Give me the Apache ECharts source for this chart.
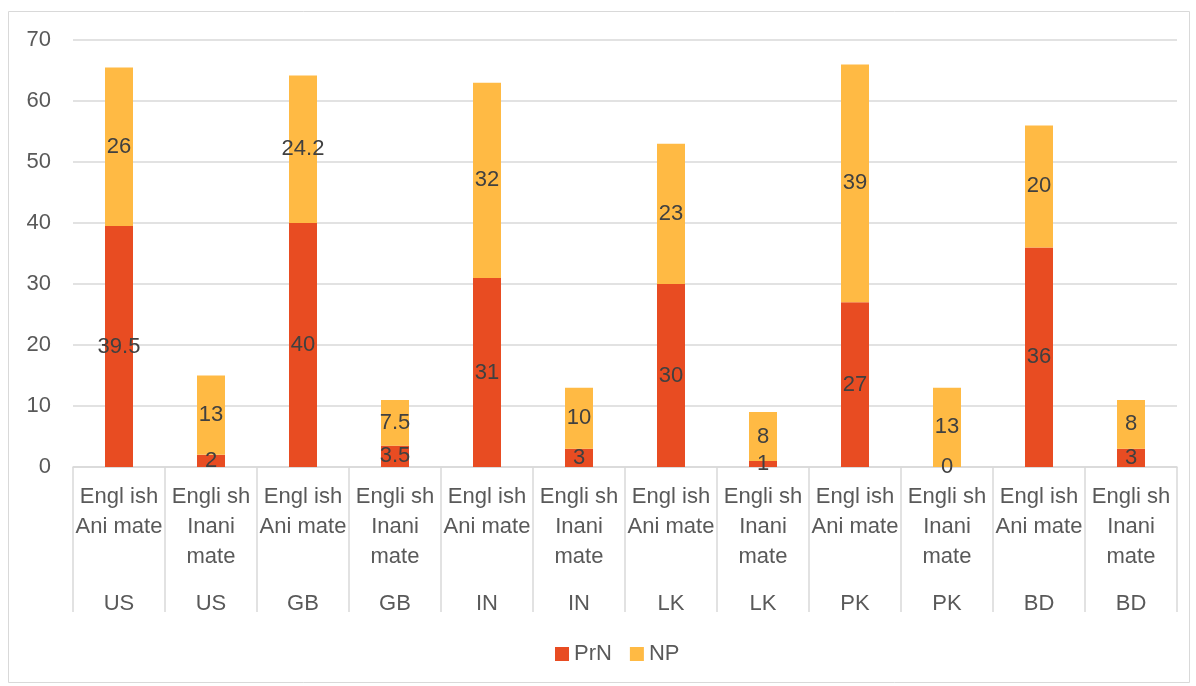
<!DOCTYPE html>
<html>
<head>
<meta charset="utf-8">
<script src="https://cdn.jsdelivr.net/npm/echarts@6/dist/echarts.min.js"></script>
<style>
  html, body { margin: 0; padding: 0; background: #fff; }
  #chart { width: 1196px; height: 686px; }
</style>
</head>
<body>
<div id="chart"></div>
<script>
// Level-one labels (noun type) and level-two labels (country) for each bar
const nounTypes = [
  'Engl ish\nAni mate', 'Engli sh\nInani\nmate',
  'Engl ish\nAni mate', 'Engli sh\nInani\nmate',
  'Engl ish\nAni mate', 'Engli sh\nInani\nmate',
  'Engl ish\nAni mate', 'Engli sh\nInani\nmate',
  'Engl ish\nAni mate', 'Engli sh\nInani\nmate',
  'Engl ish\nAni mate', 'Engli sh\nInani\nmate'
];
const countries = ['US', 'US', 'GB', 'GB', 'IN', 'IN', 'LK', 'LK', 'PK', 'PK', 'BD', 'BD'];

// Stacked values
const prN = [39.5, 2, 40, 3.5, 31, 3, 30, 1, 27, 0, 36, 3];
const np  = [26, 13, 24.2, 7.5, 32, 10, 23, 8, 39, 13, 20, 8];

const yTicks = { min: 0, max: 70, interval: 10 };

const FONT = 'Liberation Sans';
const FS = 22;
const GRAY = '#d9d9d9';
const TEXT = '#595959';

const chart = echarts.init(document.getElementById('chart'));

const segLabel = {
  show: true,
  position: 'inside',
  color: '#404040',
  fontFamily: FONT,
  fontSize: FS
};

chart.setOption({
  animation: false,
  textStyle: { fontFamily: FONT },
  graphic: [{
    type: 'rect',
    shape: { x: 8.5, y: 11.5, width: 1181, height: 671 },
    style: { fill: 'none', stroke: GRAY, lineWidth: 1 }
  }],
  grid: { left: 73, right: 19, top: 40, bottom: 219, containLabel: false },
  legend: {
    bottom: 16,
    left: 550,
    itemWidth: 14,
    itemHeight: 14,
    itemGap: 18,
    icon: 'rect',
    textStyle: { color: TEXT, fontFamily: FONT, fontSize: FS },
    data: ['PrN', 'NP']
  },
  xAxis: [{
    type: 'category',
    data: nounTypes,
    position: 'bottom',
    axisLine: { show: true, lineStyle: { color: GRAY, width: 1.5 } },
    axisTick: { show: true, length: 145, interval: 0, lineStyle: { color: GRAY, width: 1.5 } },
    axisLabel: {
      interval: 0,
      margin: 15,
      color: TEXT,
      fontFamily: FONT,
      fontSize: FS,
      lineHeight: 30,
      verticalAlign: 'top'
    }
  }, {
    type: 'category',
    data: countries,
    position: 'bottom',
    gridIndex: 0,
    axisLine: { show: false },
    axisTick: { show: false },
    axisLabel: {
      interval: 0,
      margin: 126,
      color: TEXT,
      fontFamily: FONT,
      fontSize: FS,
      verticalAlign: 'top'
    }
  }],
  yAxis: {
    type: 'value',
    min: yTicks.min,
    max: yTicks.max,
    interval: yTicks.interval,
    axisLine: { show: false },
    axisTick: { show: false },
    splitLine: { lineStyle: { color: GRAY, width: 1.5 } },
    axisLabel: { color: TEXT, fontFamily: FONT, fontSize: FS, margin: 22 }
  },
  series: [{
    name: 'PrN',
    type: 'bar',
    stack: 'total',
    barWidth: 28,
    data: prN,
    itemStyle: { color: '#E84C22' },
    label: segLabel
  }, {
    name: 'NP',
    type: 'bar',
    stack: 'total',
    barWidth: 28,
    data: np,
    itemStyle: { color: '#FFBA44' },
    label: segLabel
  }]
});
</script>
</body>
</html>
